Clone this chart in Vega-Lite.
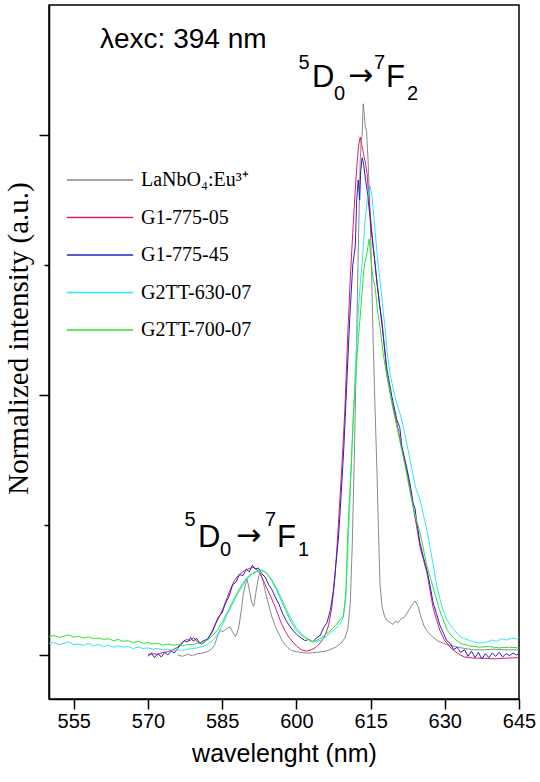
{
"$schema": "https://vega.github.io/schema/vega-lite/v6.json",
"width": 470, "height": 694,
"autosize": {"type": "none"},
"padding": {"left": 49, "top": 5, "right": 21, "bottom": 83},
"background": "white",
"config": {
  "view": {"stroke": "black", "strokeWidth": 1.5},
  "axis": {"domainColor": "black", "domainWidth": 1.5, "tickColor": "black", "tickWidth": 1.5, "grid": false, "labelColor": "black", "titleColor": "black"}
},
"datasets": {
"spectra": [
{"s":"LaNbO₄:Eu³⁺","x":576,"y":0.0},{"s":"LaNbO₄:Eu³⁺","x":577,"y":-0.002},{"s":"LaNbO₄:Eu³⁺","x":578,"y":0.001},{"s":"LaNbO₄:Eu³⁺","x":579,"y":-0.001},{"s":"LaNbO₄:Eu³⁺","x":580,"y":0.002},{"s":"LaNbO₄:Eu³⁺","x":581,"y":0.003},{"s":"LaNbO₄:Eu³⁺","x":582,"y":0.005},{"s":"LaNbO₄:Eu³⁺","x":583,"y":0.01},{"s":"LaNbO₄:Eu³⁺","x":583.5,"y":0.016},{"s":"LaNbO₄:Eu³⁺","x":584,"y":0.028},{"s":"LaNbO₄:Eu³⁺","x":584.6,"y":0.038},{"s":"LaNbO₄:Eu³⁺","x":585.2,"y":0.036},{"s":"LaNbO₄:Eu³⁺","x":585.8,"y":0.04},{"s":"LaNbO₄:Eu³⁺","x":586.6,"y":0.043},{"s":"LaNbO₄:Eu³⁺","x":587.2,"y":0.034},{"s":"LaNbO₄:Eu³⁺","x":587.7,"y":0.028},{"s":"LaNbO₄:Eu³⁺","x":588.3,"y":0.04},{"s":"LaNbO₄:Eu³⁺","x":588.8,"y":0.065},{"s":"LaNbO₄:Eu³⁺","x":589.3,"y":0.095},{"s":"LaNbO₄:Eu³⁺","x":590,"y":0.118},{"s":"LaNbO₄:Eu³⁺","x":590.5,"y":0.1},{"s":"LaNbO₄:Eu³⁺","x":591,"y":0.08},{"s":"LaNbO₄:Eu³⁺","x":591.4,"y":0.075},{"s":"LaNbO₄:Eu³⁺","x":591.9,"y":0.1},{"s":"LaNbO₄:Eu³⁺","x":592.4,"y":0.122},{"s":"LaNbO₄:Eu³⁺","x":592.8,"y":0.125},{"s":"LaNbO₄:Eu³⁺","x":593.3,"y":0.112},{"s":"LaNbO₄:Eu³⁺","x":593.8,"y":0.095},{"s":"LaNbO₄:Eu³⁺","x":594.3,"y":0.08},{"s":"LaNbO₄:Eu³⁺","x":595,"y":0.06},{"s":"LaNbO₄:Eu³⁺","x":595.7,"y":0.045},{"s":"LaNbO₄:Eu³⁺","x":596.5,"y":0.032},{"s":"LaNbO₄:Eu³⁺","x":597.3,"y":0.02},{"s":"LaNbO₄:Eu³⁺","x":598.2,"y":0.012},{"s":"LaNbO₄:Eu³⁺","x":599,"y":0.007},{"s":"LaNbO₄:Eu³⁺","x":600,"y":0.005},{"s":"LaNbO₄:Eu³⁺","x":601,"y":0.004},{"s":"LaNbO₄:Eu³⁺","x":602,"y":0.003},{"s":"LaNbO₄:Eu³⁺","x":603,"y":0.003},{"s":"LaNbO₄:Eu³⁺","x":604,"y":0.004},{"s":"LaNbO₄:Eu³⁺","x":605,"y":0.005},{"s":"LaNbO₄:Eu³⁺","x":606,"y":0.006},{"s":"LaNbO₄:Eu³⁺","x":607,"y":0.009},{"s":"LaNbO₄:Eu³⁺","x":608,"y":0.012},{"s":"LaNbO₄:Eu³⁺","x":609,"y":0.018},{"s":"LaNbO₄:Eu³⁺","x":609.8,"y":0.026},{"s":"LaNbO₄:Eu³⁺","x":610.4,"y":0.04},{"s":"LaNbO₄:Eu³⁺","x":610.9,"y":0.08},{"s":"LaNbO₄:Eu³⁺","x":611.3,"y":0.17},{"s":"LaNbO₄:Eu³⁺","x":611.7,"y":0.3},{"s":"LaNbO₄:Eu³⁺","x":612.1,"y":0.45},{"s":"LaNbO₄:Eu³⁺","x":612.5,"y":0.62},{"s":"LaNbO₄:Eu³⁺","x":612.9,"y":0.76},{"s":"LaNbO₄:Eu³⁺","x":613.1,"y":0.79},{"s":"LaNbO₄:Eu³⁺","x":613.3,"y":0.8},{"s":"LaNbO₄:Eu³⁺","x":613.5,"y":0.848},{"s":"LaNbO₄:Eu³⁺","x":613.7,"y":0.835},{"s":"LaNbO₄:Eu³⁺","x":613.9,"y":0.815},{"s":"LaNbO₄:Eu³⁺","x":614.2,"y":0.805},{"s":"LaNbO₄:Eu³⁺","x":614.5,"y":0.76},{"s":"LaNbO₄:Eu³⁺","x":614.9,"y":0.68},{"s":"LaNbO₄:Eu³⁺","x":615.2,"y":0.59},{"s":"LaNbO₄:Eu³⁺","x":615.5,"y":0.49},{"s":"LaNbO₄:Eu³⁺","x":615.9,"y":0.38},{"s":"LaNbO₄:Eu³⁺","x":616.3,"y":0.28},{"s":"LaNbO₄:Eu³⁺","x":616.6,"y":0.19},{"s":"LaNbO₄:Eu³⁺","x":616.9,"y":0.11},{"s":"LaNbO₄:Eu³⁺","x":617.3,"y":0.075},{"s":"LaNbO₄:Eu³⁺","x":617.8,"y":0.06},{"s":"LaNbO₄:Eu³⁺","x":618.3,"y":0.053},{"s":"LaNbO₄:Eu³⁺","x":619,"y":0.05},{"s":"LaNbO₄:Eu³⁺","x":619.5,"y":0.047},{"s":"LaNbO₄:Eu³⁺","x":620,"y":0.052},{"s":"LaNbO₄:Eu³⁺","x":620.6,"y":0.05},{"s":"LaNbO₄:Eu³⁺","x":621.2,"y":0.056},{"s":"LaNbO₄:Eu³⁺","x":621.8,"y":0.058},{"s":"LaNbO₄:Eu³⁺","x":622.5,"y":0.066},{"s":"LaNbO₄:Eu³⁺","x":623.2,"y":0.075},{"s":"LaNbO₄:Eu³⁺","x":624,"y":0.083},{"s":"LaNbO₄:Eu³⁺","x":624.6,"y":0.075},{"s":"LaNbO₄:Eu³⁺","x":625.2,"y":0.058},{"s":"LaNbO₄:Eu³⁺","x":625.8,"y":0.045},{"s":"LaNbO₄:Eu³⁺","x":626.5,"y":0.036},{"s":"LaNbO₄:Eu³⁺","x":627.5,"y":0.028},{"s":"LaNbO₄:Eu³⁺","x":628.5,"y":0.022},{"s":"LaNbO₄:Eu³⁺","x":630,"y":0.017},{"s":"LaNbO₄:Eu³⁺","x":632,"y":0.013},{"s":"LaNbO₄:Eu³⁺","x":634,"y":0.01},{"s":"LaNbO₄:Eu³⁺","x":636,"y":0.008},{"s":"LaNbO₄:Eu³⁺","x":638,"y":0.008},{"s":"LaNbO₄:Eu³⁺","x":640,"y":0.009},{"s":"LaNbO₄:Eu³⁺","x":642,"y":0.008},{"s":"LaNbO₄:Eu³⁺","x":645,"y":0.008},
{"s":"G1-775-05","x":570,"y":0.0},{"s":"G1-775-05","x":571,"y":0.002},{"s":"G1-775-05","x":572,"y":0.001},{"s":"G1-775-05","x":573,"y":0.004},{"s":"G1-775-05","x":574,"y":0.005},{"s":"G1-775-05","x":575,"y":0.008},{"s":"G1-775-05","x":576,"y":0.012},{"s":"G1-775-05","x":577,"y":0.02},{"s":"G1-775-05","x":577.8,"y":0.024},{"s":"G1-775-05","x":578.5,"y":0.022},{"s":"G1-775-05","x":579.2,"y":0.027},{"s":"G1-775-05","x":580,"y":0.02},{"s":"G1-775-05","x":580.8,"y":0.017},{"s":"G1-775-05","x":581.5,"y":0.02},{"s":"G1-775-05","x":582.2,"y":0.026},{"s":"G1-775-05","x":583,"y":0.035},{"s":"G1-775-05","x":583.8,"y":0.05},{"s":"G1-775-05","x":584.5,"y":0.06},{"s":"G1-775-05","x":585.2,"y":0.072},{"s":"G1-775-05","x":586,"y":0.088},{"s":"G1-775-05","x":586.8,"y":0.103},{"s":"G1-775-05","x":587.5,"y":0.115},{"s":"G1-775-05","x":588.2,"y":0.122},{"s":"G1-775-05","x":589,"y":0.127},{"s":"G1-775-05","x":589.8,"y":0.131},{"s":"G1-775-05","x":590.5,"y":0.133},{"s":"G1-775-05","x":591.2,"y":0.135},{"s":"G1-775-05","x":591.8,"y":0.133},{"s":"G1-775-05","x":592.5,"y":0.127},{"s":"G1-775-05","x":593.2,"y":0.117},{"s":"G1-775-05","x":594,"y":0.103},{"s":"G1-775-05","x":594.8,"y":0.09},{"s":"G1-775-05","x":595.5,"y":0.078},{"s":"G1-775-05","x":596.2,"y":0.064},{"s":"G1-775-05","x":597,"y":0.048},{"s":"G1-775-05","x":597.8,"y":0.036},{"s":"G1-775-05","x":598.5,"y":0.027},{"s":"G1-775-05","x":599.3,"y":0.02},{"s":"G1-775-05","x":600,"y":0.014},{"s":"G1-775-05","x":601,"y":0.008},{"s":"G1-775-05","x":602,"y":0.006},{"s":"G1-775-05","x":603,"y":0.008},{"s":"G1-775-05","x":604,"y":0.012},{"s":"G1-775-05","x":605,"y":0.02},{"s":"G1-775-05","x":605.8,"y":0.03},{"s":"G1-775-05","x":606.5,"y":0.045},{"s":"G1-775-05","x":607.2,"y":0.075},{"s":"G1-775-05","x":607.8,"y":0.12},{"s":"G1-775-05","x":608.4,"y":0.188},{"s":"G1-775-05","x":608.8,"y":0.24},{"s":"G1-775-05","x":609.2,"y":0.29},{"s":"G1-775-05","x":609.8,"y":0.377},{"s":"G1-775-05","x":610.4,"y":0.495},{"s":"G1-775-05","x":610.9,"y":0.58},{"s":"G1-775-05","x":611.4,"y":0.65},{"s":"G1-775-05","x":611.9,"y":0.715},{"s":"G1-775-05","x":612.3,"y":0.76},{"s":"G1-775-05","x":612.6,"y":0.785},{"s":"G1-775-05","x":612.9,"y":0.797},{"s":"G1-775-05","x":613.2,"y":0.785},{"s":"G1-775-05","x":613.6,"y":0.77},{"s":"G1-775-05","x":614,"y":0.755},{"s":"G1-775-05","x":614.3,"y":0.74},{"s":"G1-775-05","x":614.9,"y":0.68},{"s":"G1-775-05","x":615.5,"y":0.63},{"s":"G1-775-05","x":616.2,"y":0.58},{"s":"G1-775-05","x":616.8,"y":0.54},{"s":"G1-775-05","x":617.3,"y":0.515},{"s":"G1-775-05","x":618.3,"y":0.43},{"s":"G1-775-05","x":619.3,"y":0.39},{"s":"G1-775-05","x":620.3,"y":0.357},{"s":"G1-775-05","x":621.3,"y":0.318},{"s":"G1-775-05","x":622.4,"y":0.28},{"s":"G1-775-05","x":623,"y":0.255},{"s":"G1-775-05","x":623.6,"y":0.228},{"s":"G1-775-05","x":624.3,"y":0.198},{"s":"G1-775-05","x":625,"y":0.166},{"s":"G1-775-05","x":625.7,"y":0.146},{"s":"G1-775-05","x":626.4,"y":0.126},{"s":"G1-775-05","x":627,"y":0.1},{"s":"G1-775-05","x":627.6,"y":0.074},{"s":"G1-775-05","x":628.3,"y":0.055},{"s":"G1-775-05","x":629,"y":0.038},{"s":"G1-775-05","x":630,"y":0.022},{"s":"G1-775-05","x":631.1,"y":0.012},{"s":"G1-775-05","x":632,"y":0.006},{"s":"G1-775-05","x":633.1,"y":0.0},{"s":"G1-775-05","x":634,"y":-0.003},{"s":"G1-775-05","x":636,"y":-0.005},{"s":"G1-775-05","x":638,"y":-0.005},{"s":"G1-775-05","x":640,"y":-0.006},{"s":"G1-775-05","x":642,"y":-0.005},{"s":"G1-775-05","x":645,"y":-0.004},
{"s":"G1-775-45","x":570,"y":-0.002},{"s":"G1-775-45","x":570.7,"y":0.003},{"s":"G1-775-45","x":571.3,"y":-0.004},{"s":"G1-775-45","x":572,"y":0.002},{"s":"G1-775-45","x":572.7,"y":-0.003},{"s":"G1-775-45","x":573.4,"y":0.004},{"s":"G1-775-45","x":574,"y":0.0},{"s":"G1-775-45","x":574.7,"y":0.006},{"s":"G1-775-45","x":575.3,"y":0.003},{"s":"G1-775-45","x":576,"y":0.01},{"s":"G1-775-45","x":576.7,"y":0.016},{"s":"G1-775-45","x":577.3,"y":0.022},{"s":"G1-775-45","x":578,"y":0.02},{"s":"G1-775-45","x":578.6,"y":0.027},{"s":"G1-775-45","x":579.2,"y":0.021},{"s":"G1-775-45","x":579.8,"y":0.026},{"s":"G1-775-45","x":580.5,"y":0.018},{"s":"G1-775-45","x":581.2,"y":0.022},{"s":"G1-775-45","x":582,"y":0.024},{"s":"G1-775-45","x":582.8,"y":0.034},{"s":"G1-775-45","x":583.5,"y":0.045},{"s":"G1-775-45","x":584.2,"y":0.058},{"s":"G1-775-45","x":585,"y":0.065},{"s":"G1-775-45","x":585.7,"y":0.08},{"s":"G1-775-45","x":586.4,"y":0.09},{"s":"G1-775-45","x":587.1,"y":0.108},{"s":"G1-775-45","x":587.8,"y":0.112},{"s":"G1-775-45","x":588.5,"y":0.124},{"s":"G1-775-45","x":589.2,"y":0.122},{"s":"G1-775-45","x":589.9,"y":0.132},{"s":"G1-775-45","x":590.5,"y":0.128},{"s":"G1-775-45","x":591.1,"y":0.138},{"s":"G1-775-45","x":591.7,"y":0.132},{"s":"G1-775-45","x":592.3,"y":0.134},{"s":"G1-775-45","x":593,"y":0.125},{"s":"G1-775-45","x":593.7,"y":0.12},{"s":"G1-775-45","x":594.4,"y":0.108},{"s":"G1-775-45","x":595.1,"y":0.1},{"s":"G1-775-45","x":595.8,"y":0.088},{"s":"G1-775-45","x":596.5,"y":0.078},{"s":"G1-775-45","x":597.2,"y":0.064},{"s":"G1-775-45","x":598,"y":0.052},{"s":"G1-775-45","x":598.8,"y":0.043},{"s":"G1-775-45","x":599.5,"y":0.036},{"s":"G1-775-45","x":600.3,"y":0.03},{"s":"G1-775-45","x":601,"y":0.026},{"s":"G1-775-45","x":601.8,"y":0.022},{"s":"G1-775-45","x":602.5,"y":0.024},{"s":"G1-775-45","x":603.3,"y":0.02},{"s":"G1-775-45","x":604,"y":0.026},{"s":"G1-775-45","x":604.8,"y":0.03},{"s":"G1-775-45","x":605.5,"y":0.042},{"s":"G1-775-45","x":606.2,"y":0.05},{"s":"G1-775-45","x":606.9,"y":0.07},{"s":"G1-775-45","x":607.5,"y":0.1},{"s":"G1-775-45","x":608,"y":0.14},{"s":"G1-775-45","x":608.5,"y":0.18},{"s":"G1-775-45","x":609,"y":0.24},{"s":"G1-775-45","x":609.6,"y":0.32},{"s":"G1-775-45","x":610.2,"y":0.42},{"s":"G1-775-45","x":610.8,"y":0.52},{"s":"G1-775-45","x":611.4,"y":0.6},{"s":"G1-775-45","x":611.9,"y":0.628},{"s":"G1-775-45","x":612.2,"y":0.7},{"s":"G1-775-45","x":612.5,"y":0.731},{"s":"G1-775-45","x":612.8,"y":0.7},{"s":"G1-775-45","x":613,"y":0.745},{"s":"G1-775-45","x":613.3,"y":0.765},{"s":"G1-775-45","x":613.6,"y":0.755},{"s":"G1-775-45","x":614,"y":0.73},{"s":"G1-775-45","x":614.3,"y":0.715},{"s":"G1-775-45","x":614.8,"y":0.68},{"s":"G1-775-45","x":615.3,"y":0.643},{"s":"G1-775-45","x":615.8,"y":0.61},{"s":"G1-775-45","x":616.3,"y":0.572},{"s":"G1-775-45","x":616.8,"y":0.54},{"s":"G1-775-45","x":617.3,"y":0.508},{"s":"G1-775-45","x":618.3,"y":0.44},{"s":"G1-775-45","x":619.3,"y":0.398},{"s":"G1-775-45","x":620.3,"y":0.362},{"s":"G1-775-45","x":620.9,"y":0.35},{"s":"G1-775-45","x":621.3,"y":0.322},{"s":"G1-775-45","x":622.4,"y":0.285},{"s":"G1-775-45","x":623,"y":0.262},{"s":"G1-775-45","x":623.6,"y":0.234},{"s":"G1-775-45","x":624,"y":0.225},{"s":"G1-775-45","x":624.3,"y":0.206},{"s":"G1-775-45","x":625,"y":0.172},{"s":"G1-775-45","x":625.7,"y":0.15},{"s":"G1-775-45","x":626.4,"y":0.13},{"s":"G1-775-45","x":627,"y":0.108},{"s":"G1-775-45","x":627.6,"y":0.082},{"s":"G1-775-45","x":628.3,"y":0.064},{"s":"G1-775-45","x":629,"y":0.046},{"s":"G1-775-45","x":629.7,"y":0.034},{"s":"G1-775-45","x":630.4,"y":0.022},{"s":"G1-775-45","x":631.1,"y":0.018},{"s":"G1-775-45","x":631.8,"y":0.008},{"s":"G1-775-45","x":632.5,"y":0.012},{"s":"G1-775-45","x":633.2,"y":0.004},{"s":"G1-775-45","x":634,"y":0.008},{"s":"G1-775-45","x":634.7,"y":-0.002},{"s":"G1-775-45","x":635.4,"y":0.006},{"s":"G1-775-45","x":636.1,"y":-0.004},{"s":"G1-775-45","x":636.8,"y":0.004},{"s":"G1-775-45","x":637.5,"y":-0.006},{"s":"G1-775-45","x":638.2,"y":0.002},{"s":"G1-775-45","x":638.9,"y":-0.004},{"s":"G1-775-45","x":639.6,"y":0.003},{"s":"G1-775-45","x":640.3,"y":-0.002},{"s":"G1-775-45","x":641,"y":0.004},{"s":"G1-775-45","x":641.7,"y":-0.003},{"s":"G1-775-45","x":642.4,"y":0.002},{"s":"G1-775-45","x":643.1,"y":-0.001},{"s":"G1-775-45","x":643.8,"y":0.003},{"s":"G1-775-45","x":644.5,"y":0.0},{"s":"G1-775-45","x":645,"y":0.002},
{"s":"G2TT-630-07","x":550,"y":0.018},{"s":"G2TT-630-07","x":551,"y":0.019},{"s":"G2TT-630-07","x":552,"y":0.016},{"s":"G2TT-630-07","x":553,"y":0.018},{"s":"G2TT-630-07","x":554,"y":0.02},{"s":"G2TT-630-07","x":555,"y":0.016},{"s":"G2TT-630-07","x":556,"y":0.017},{"s":"G2TT-630-07","x":557,"y":0.015},{"s":"G2TT-630-07","x":558,"y":0.018},{"s":"G2TT-630-07","x":559,"y":0.014},{"s":"G2TT-630-07","x":560,"y":0.016},{"s":"G2TT-630-07","x":561,"y":0.013},{"s":"G2TT-630-07","x":562,"y":0.015},{"s":"G2TT-630-07","x":563,"y":0.012},{"s":"G2TT-630-07","x":564,"y":0.014},{"s":"G2TT-630-07","x":565,"y":0.012},{"s":"G2TT-630-07","x":566,"y":0.013},{"s":"G2TT-630-07","x":567,"y":0.01},{"s":"G2TT-630-07","x":568,"y":0.012},{"s":"G2TT-630-07","x":569,"y":0.01},{"s":"G2TT-630-07","x":570,"y":0.011},{"s":"G2TT-630-07","x":571,"y":0.009},{"s":"G2TT-630-07","x":572,"y":0.01},{"s":"G2TT-630-07","x":573,"y":0.008},{"s":"G2TT-630-07","x":574,"y":0.009},{"s":"G2TT-630-07","x":575,"y":0.007},{"s":"G2TT-630-07","x":576,"y":0.008},{"s":"G2TT-630-07","x":577,"y":0.007},{"s":"G2TT-630-07","x":578,"y":0.009},{"s":"G2TT-630-07","x":579,"y":0.01},{"s":"G2TT-630-07","x":580,"y":0.011},{"s":"G2TT-630-07","x":581,"y":0.013},{"s":"G2TT-630-07","x":582,"y":0.016},{"s":"G2TT-630-07","x":583,"y":0.022},{"s":"G2TT-630-07","x":584,"y":0.031},{"s":"G2TT-630-07","x":585,"y":0.045},{"s":"G2TT-630-07","x":586,"y":0.062},{"s":"G2TT-630-07","x":587,"y":0.077},{"s":"G2TT-630-07","x":588,"y":0.092},{"s":"G2TT-630-07","x":589,"y":0.105},{"s":"G2TT-630-07","x":590,"y":0.117},{"s":"G2TT-630-07","x":591,"y":0.124},{"s":"G2TT-630-07","x":592,"y":0.128},{"s":"G2TT-630-07","x":593,"y":0.13},{"s":"G2TT-630-07","x":594,"y":0.126},{"s":"G2TT-630-07","x":595,"y":0.116},{"s":"G2TT-630-07","x":596,"y":0.103},{"s":"G2TT-630-07","x":597,"y":0.087},{"s":"G2TT-630-07","x":598,"y":0.07},{"s":"G2TT-630-07","x":599,"y":0.055},{"s":"G2TT-630-07","x":600,"y":0.042},{"s":"G2TT-630-07","x":601,"y":0.033},{"s":"G2TT-630-07","x":602,"y":0.026},{"s":"G2TT-630-07","x":603,"y":0.021},{"s":"G2TT-630-07","x":604,"y":0.02},{"s":"G2TT-630-07","x":605,"y":0.023},{"s":"G2TT-630-07","x":606,"y":0.028},{"s":"G2TT-630-07","x":607,"y":0.035},{"s":"G2TT-630-07","x":608,"y":0.041},{"s":"G2TT-630-07","x":608.8,"y":0.048},{"s":"G2TT-630-07","x":609.5,"y":0.058},{"s":"G2TT-630-07","x":610,"y":0.09},{"s":"G2TT-630-07","x":610.5,"y":0.18},{"s":"G2TT-630-07","x":611,"y":0.27},{"s":"G2TT-630-07","x":611.5,"y":0.36},{"s":"G2TT-630-07","x":612,"y":0.45},{"s":"G2TT-630-07","x":612.5,"y":0.526},{"s":"G2TT-630-07","x":613,"y":0.58},{"s":"G2TT-630-07","x":613.3,"y":0.603},{"s":"G2TT-630-07","x":613.8,"y":0.66},{"s":"G2TT-630-07","x":614.3,"y":0.7},{"s":"G2TT-630-07","x":614.9,"y":0.722},{"s":"G2TT-630-07","x":615.3,"y":0.705},{"s":"G2TT-630-07","x":615.9,"y":0.654},{"s":"G2TT-630-07","x":616.4,"y":0.61},{"s":"G2TT-630-07","x":616.9,"y":0.577},{"s":"G2TT-630-07","x":617.4,"y":0.54},{"s":"G2TT-630-07","x":617.9,"y":0.505},{"s":"G2TT-630-07","x":618.3,"y":0.469},{"s":"G2TT-630-07","x":619,"y":0.43},{"s":"G2TT-630-07","x":620,"y":0.395},{"s":"G2TT-630-07","x":621,"y":0.37},{"s":"G2TT-630-07","x":621.5,"y":0.355},{"s":"G2TT-630-07","x":622.3,"y":0.326},{"s":"G2TT-630-07","x":623,"y":0.3},{"s":"G2TT-630-07","x":624,"y":0.26},{"s":"G2TT-630-07","x":625,"y":0.238},{"s":"G2TT-630-07","x":626.4,"y":0.192},{"s":"G2TT-630-07","x":627.4,"y":0.15},{"s":"G2TT-630-07","x":628.4,"y":0.105},{"s":"G2TT-630-07","x":629.4,"y":0.075},{"s":"G2TT-630-07","x":630.4,"y":0.054},{"s":"G2TT-630-07","x":631.5,"y":0.042},{"s":"G2TT-630-07","x":633.1,"y":0.028},{"s":"G2TT-630-07","x":635,"y":0.022},{"s":"G2TT-630-07","x":637.1,"y":0.018},{"s":"G2TT-630-07","x":638.5,"y":0.02},{"s":"G2TT-630-07","x":639.5,"y":0.023},{"s":"G2TT-630-07","x":640.5,"y":0.021},{"s":"G2TT-630-07","x":641.5,"y":0.025},{"s":"G2TT-630-07","x":642.5,"y":0.023},{"s":"G2TT-630-07","x":643.5,"y":0.026},{"s":"G2TT-630-07","x":644.5,"y":0.025},{"s":"G2TT-630-07","x":645,"y":0.027},
{"s":"G2TT-700-07","x":550,"y":0.028},{"s":"G2TT-700-07","x":551,"y":0.03},{"s":"G2TT-700-07","x":552,"y":0.027},{"s":"G2TT-700-07","x":553,"y":0.029},{"s":"G2TT-700-07","x":554,"y":0.031},{"s":"G2TT-700-07","x":555,"y":0.027},{"s":"G2TT-700-07","x":556,"y":0.029},{"s":"G2TT-700-07","x":557,"y":0.026},{"s":"G2TT-700-07","x":558,"y":0.028},{"s":"G2TT-700-07","x":559,"y":0.025},{"s":"G2TT-700-07","x":560,"y":0.026},{"s":"G2TT-700-07","x":561,"y":0.024},{"s":"G2TT-700-07","x":562,"y":0.025},{"s":"G2TT-700-07","x":563,"y":0.022},{"s":"G2TT-700-07","x":564,"y":0.024},{"s":"G2TT-700-07","x":565,"y":0.021},{"s":"G2TT-700-07","x":566,"y":0.022},{"s":"G2TT-700-07","x":567,"y":0.019},{"s":"G2TT-700-07","x":568,"y":0.021},{"s":"G2TT-700-07","x":569,"y":0.018},{"s":"G2TT-700-07","x":570,"y":0.019},{"s":"G2TT-700-07","x":571,"y":0.017},{"s":"G2TT-700-07","x":572,"y":0.018},{"s":"G2TT-700-07","x":573,"y":0.015},{"s":"G2TT-700-07","x":574,"y":0.017},{"s":"G2TT-700-07","x":575,"y":0.015},{"s":"G2TT-700-07","x":576,"y":0.016},{"s":"G2TT-700-07","x":577,"y":0.014},{"s":"G2TT-700-07","x":578,"y":0.016},{"s":"G2TT-700-07","x":579,"y":0.016},{"s":"G2TT-700-07","x":580,"y":0.018},{"s":"G2TT-700-07","x":581,"y":0.019},{"s":"G2TT-700-07","x":582,"y":0.023},{"s":"G2TT-700-07","x":583,"y":0.029},{"s":"G2TT-700-07","x":584,"y":0.038},{"s":"G2TT-700-07","x":585,"y":0.05},{"s":"G2TT-700-07","x":586,"y":0.065},{"s":"G2TT-700-07","x":587,"y":0.08},{"s":"G2TT-700-07","x":588,"y":0.095},{"s":"G2TT-700-07","x":589,"y":0.108},{"s":"G2TT-700-07","x":590,"y":0.119},{"s":"G2TT-700-07","x":591,"y":0.125},{"s":"G2TT-700-07","x":592,"y":0.129},{"s":"G2TT-700-07","x":593,"y":0.131},{"s":"G2TT-700-07","x":594,"y":0.126},{"s":"G2TT-700-07","x":595,"y":0.115},{"s":"G2TT-700-07","x":596,"y":0.1},{"s":"G2TT-700-07","x":597,"y":0.083},{"s":"G2TT-700-07","x":598,"y":0.066},{"s":"G2TT-700-07","x":599,"y":0.05},{"s":"G2TT-700-07","x":600,"y":0.038},{"s":"G2TT-700-07","x":601,"y":0.031},{"s":"G2TT-700-07","x":602,"y":0.026},{"s":"G2TT-700-07","x":603,"y":0.021},{"s":"G2TT-700-07","x":604,"y":0.022},{"s":"G2TT-700-07","x":605,"y":0.026},{"s":"G2TT-700-07","x":606,"y":0.032},{"s":"G2TT-700-07","x":607,"y":0.038},{"s":"G2TT-700-07","x":608,"y":0.046},{"s":"G2TT-700-07","x":608.8,"y":0.054},{"s":"G2TT-700-07","x":609.5,"y":0.06},{"s":"G2TT-700-07","x":610,"y":0.095},{"s":"G2TT-700-07","x":610.4,"y":0.188},{"s":"G2TT-700-07","x":611,"y":0.28},{"s":"G2TT-700-07","x":611.5,"y":0.366},{"s":"G2TT-700-07","x":612,"y":0.43},{"s":"G2TT-700-07","x":612.5,"y":0.485},{"s":"G2TT-700-07","x":613,"y":0.53},{"s":"G2TT-700-07","x":613.3,"y":0.56},{"s":"G2TT-700-07","x":613.6,"y":0.59},{"s":"G2TT-700-07","x":613.9,"y":0.605},{"s":"G2TT-700-07","x":614.2,"y":0.615},{"s":"G2TT-700-07","x":614.5,"y":0.63},{"s":"G2TT-700-07","x":614.7,"y":0.64},{"s":"G2TT-700-07","x":614.9,"y":0.625},{"s":"G2TT-700-07","x":615.2,"y":0.6},{"s":"G2TT-700-07","x":615.5,"y":0.58},{"s":"G2TT-700-07","x":615.9,"y":0.566},{"s":"G2TT-700-07","x":616.4,"y":0.53},{"s":"G2TT-700-07","x":616.9,"y":0.505},{"s":"G2TT-700-07","x":617.6,"y":0.46},{"s":"G2TT-700-07","x":618.3,"y":0.43},{"s":"G2TT-700-07","x":619.5,"y":0.38},{"s":"G2TT-700-07","x":620.9,"y":0.33},{"s":"G2TT-700-07","x":622,"y":0.29},{"s":"G2TT-700-07","x":623,"y":0.25},{"s":"G2TT-700-07","x":624,"y":0.215},{"s":"G2TT-700-07","x":625,"y":0.188},{"s":"G2TT-700-07","x":626.3,"y":0.14},{"s":"G2TT-700-07","x":627.6,"y":0.105},{"s":"G2TT-700-07","x":628.9,"y":0.07},{"s":"G2TT-700-07","x":630.5,"y":0.038},{"s":"G2TT-700-07","x":631.8,"y":0.026},{"s":"G2TT-700-07","x":633.1,"y":0.018},{"s":"G2TT-700-07","x":635,"y":0.014},{"s":"G2TT-700-07","x":637,"y":0.012},{"s":"G2TT-700-07","x":639,"y":0.013},{"s":"G2TT-700-07","x":641,"y":0.011},{"s":"G2TT-700-07","x":643,"y":0.012},{"s":"G2TT-700-07","x":645,"y":0.011}
],
"big": [
{"t":"D","x":603.16,"y":0.8738},{"t":"F","x":618.12,"y":0.8738},
{"t":"D","x":580.12,"y":0.1662},{"t":"F","x":596.09,"y":0.1662}
],
"arrows": [
{"t":"→","x":610.44,"y":0.8769},{"t":"→","x":587.8,"y":0.1692}
],
"small": [
{"t":"5","x":600.44,"y":0.9015},{"t":"0","x":607.61,"y":0.8538},{"t":"7","x":615.7,"y":0.9015},{"t":"2","x":622.37,"y":0.8538},
{"t":"5","x":577.39,"y":0.1985},{"t":"0","x":584.57,"y":0.1523},{"t":"7","x":593.66,"y":0.1985},{"t":"1","x":600.33,"y":0.1523}
],
"note": [
{"t":"λexc: 394 nm","x":560.31,"y":0.934}
]
},
"layer": [
{
"data": {"name": "spectra"},
"mark": {"type": "line", "strokeWidth": 1, "clip": true},
"encoding": {
"x": {"field": "x", "type": "quantitative",
 "scale": {"domain": [550, 645], "nice": false, "zero": false},
 "axis": {"title": "wavelenght (nm)", "values": [555,562.5,570,577.5,585,592.5,600,607.5,615,622.5,630,637.5,645],
  "labelExpr": "datum.value % 15 === 0 ? datum.label : ''",
  "tickSize": {"condition": {"test": "datum.value % 15 === 0", "value": 10}, "value": 5},
  "labelFont": "Liberation Sans", "labelFontSize": 20, "labelPadding": 2,
  "titleFont": "Liberation Sans", "titleFontSize": 25, "titleFontWeight": "normal", "titlePadding": 10,
  "labelFlush": false, "labelOverlap": false}},
"y": {"field": "y", "type": "quantitative",
 "scale": {"domain": [-0.0677, 1.0], "nice": false, "zero": false},
 "axis": {"title": "Normalized intensity (a.u.)", "values": [0,0.2,0.4,0.6,0.8], "labels": false,
  "tickSize": {"condition": {"test": "round(datum.value*10) % 4 === 0", "value": 10}, "value": 5},
  "titleFont": "Liberation Serif", "titleFontSize": 29, "titleFontWeight": "normal", "titlePadding": 5, "titleY": 333}},
"color": {"field": "s", "type": "nominal",
 "scale": {"domain": ["LaNbO₄:Eu³⁺","G1-775-05","G1-775-45","G2TT-630-07","G2TT-700-07"],
  "range": ["#8a8a8a","#e31a6e","#2424c4","#30e8f0","#30e030"]},
 "legend": {"orient": "none", "legendX": 17, "legendY": 165, "title": null,
  "symbolType": "stroke", "symbolSize": 4400, "symbolStrokeWidth": 1.5,
  "clipHeight": 20,
  "labelFont": "Liberation Serif", "labelFontSize": 20, "labelColor": "black",
  "rowPadding": 17.5, "labelOffset": 7, "labelLimit": 300}}
}
},
{
"data": {"name": "big"},
"mark": {"type": "text", "align": "left", "baseline": "alphabetic", "font": "Liberation Sans", "fontSize": 31, "color": "black"},
"encoding": {"x": {"field": "x", "type": "quantitative"}, "y": {"field": "y", "type": "quantitative"}, "text": {"field": "t"}}
},
{
"data": {"name": "arrows"},
"mark": {"type": "text", "align": "left", "baseline": "alphabetic", "font": "DejaVu Sans", "fontSize": 30, "color": "black"},
"encoding": {"x": {"field": "x", "type": "quantitative"}, "y": {"field": "y", "type": "quantitative"}, "text": {"field": "t"}}
},
{
"data": {"name": "small"},
"mark": {"type": "text", "align": "left", "baseline": "alphabetic", "font": "Liberation Sans", "fontSize": 20, "color": "black"},
"encoding": {"x": {"field": "x", "type": "quantitative"}, "y": {"field": "y", "type": "quantitative"}, "text": {"field": "t"}}
},
{
"data": {"name": "note"},
"mark": {"type": "text", "align": "left", "baseline": "alphabetic", "font": "Liberation Sans", "fontSize": 28, "color": "black"},
"encoding": {"x": {"field": "x", "type": "quantitative"}, "y": {"field": "y", "type": "quantitative"}, "text": {"field": "t"}}
}
]
}
